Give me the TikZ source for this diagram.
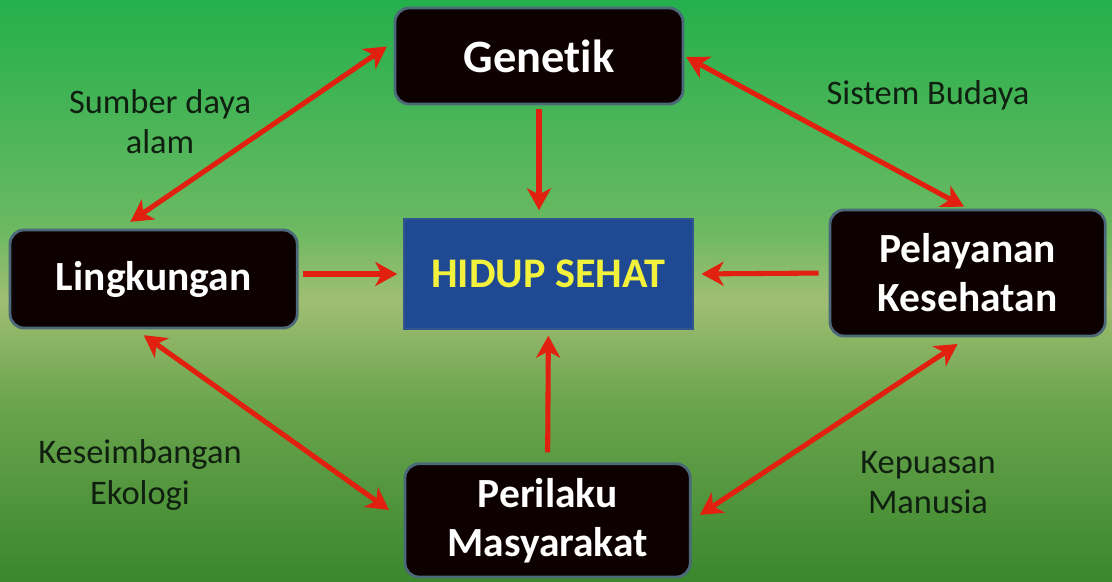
\documentclass[tikz,border=0pt]{standalone}
\usepackage{fontspec}
\setmainfont[Ligatures={NoCommon}]{Carlito}
\usepackage{tikz}
\usetikzlibrary{arrows.meta,positioning,calc}
\usepackage{xcolor}
\definecolor{bgtop}{RGB}{36,176,76}
\definecolor{bgupper}{RGB}{108,185,98}
\definecolor{bglight}{RGB}{160,190,115}
\definecolor{bglower}{RGB}{108,165,78}
\definecolor{bgbottom}{RGB}{58,135,45}
\definecolor{boxedge}{RGB}{75,105,120}
\definecolor{sehatblue}{RGB}{31,74,147}
\definecolor{sehatyellow}{RGB}{242,242,60}
\definecolor{arrowred}{RGB}{226,32,16}
\definecolor{labeltext}{RGB}{16,32,16}
\pgfdeclareverticalshading{bgshade}{100bp}{color(0bp)=(bgbottom); color(25bp)=(bgbottom);
    color(40.6bp)=(bglower); color(49.2bp)=(bglight); color(55.2bp)=(bgupper);
    color(75bp)=(bgtop); color(100bp)=(bgtop)}

\begin{document}
\begin{tikzpicture}[
    factor/.style={rectangle, draw=boxedge, line width=2pt, fill=black!95!red,
        rounded corners=0.35cm, text=white, align=center,
        font=\bfseries\fontsize{29.5}{35}\selectfont},
    core/.style={rectangle, draw=sehatblue!80!gray, line width=1pt, fill=sehatblue,
        text=sehatyellow, font=\bfseries\fontsize{30}{36}\selectfont,
        minimum width=7.22cm, minimum height=2.75cm},
    link/.style={text=labeltext, align=center, font=\fontsize{24.5}{28.5}\selectfont},
    arr/.style={-{Stealth[length=5.5mm, width=6mm, inset=1.6mm]}, line width=3.6pt, arrowred},
    darr/.style={{Stealth[length=5.5mm, width=6mm, inset=1.6mm]}-{Stealth[length=5.5mm, width=6mm, inset=1.6mm]},
        line width=3.6pt, arrowred}
]
    % background
    \shade[shading=bgshade] (0,0) rectangle (27.8,14.55);
    \useasboundingbox (0,0) rectangle (27.8,14.55);

    % boxes
    \node[core] (sehat) at (13.71,7.7) {HIDUP SEHAT};
    \node[factor, minimum width=7.2cm, minimum height=2.4cm,
        font=\bfseries\fontsize{33}{40}\selectfont] (gen) at (13.475,13.15) {Genetik};
    \node[factor, minimum width=7.18cm, minimum height=2.45cm] (ling) at (3.84,7.575) {Lingkungan};
    \node[factor, minimum width=6.88cm, minimum height=3.15cm] (pel) at (24.19,7.725) {Pelayanan\\Kesehatan};
    \node[factor, minimum width=7.13cm, minimum height=2.83cm] (per) at (13.69,1.54) {Perilaku\\Masyarakat};

    % labels
    \node[link] (sumber) at (4.0,11.5) {Sumber daya\\alam};
    \node[link] (budaya) at (23.2,12.175) {Sistem Budaya};
    \node[link] (ekologi) at (3.5,2.675) {Keseimbangan\\Ekologi};
    \node[link] (puas) at (23.2,2.475) {Kepuasan\\Manusia};

    % into the centre
    \draw[arr, shorten <=0.1cm, shorten >=0.2cm] (gen.south) -- (gen.south |- sehat.north);
    \draw[arr, shorten <=0.1cm, shorten >=0.15cm] (ling.east |- sehat.west) -- (sehat.west);
    \draw[arr, shorten <=0.25cm, shorten >=0.2cm] (pel.west) -- (sehat.east);
    \draw[arr, shorten <=0.25cm, shorten >=0.15cm] (per.north) -- (sehat.south);

    % between the factors
    \draw[darr, shorten <=0.3cm, shorten >=0.2cm] ([xshift=-0.83cm]ling.north) -- ([yshift=0.35cm]gen.west);
    \draw[darr, shorten <=0.05cm, shorten >=0.1cm] (gen.east) -- (pel.north);
    \draw[darr, shorten <=0.25cm, shorten >=0.45cm] ([xshift=-0.45cm]ling.south) -- (per.west);
    \draw[darr, shorten <=0.25cm, shorten >=0.3cm] (per.east) -- (pel.south);
\end{tikzpicture}
\end{document}
